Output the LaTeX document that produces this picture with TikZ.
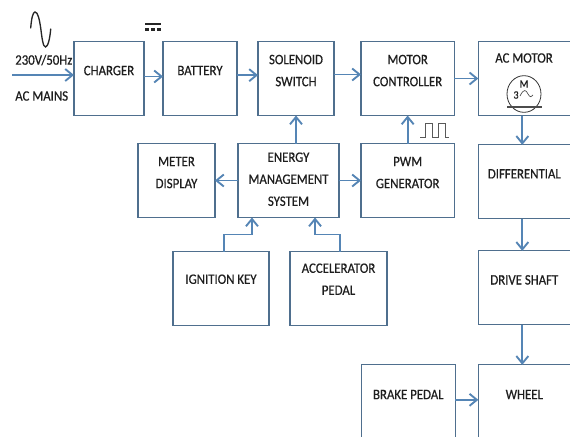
\documentclass[tikz,border=0pt]{standalone}
\usepackage{fontspec}
\setmainfont[FakeStretch=0.89,FakeBold=0.5]{Carlito}
\usetikzlibrary{positioning,arrows.meta,shapes.geometric}
\definecolor{boxline}{HTML}{4F6F8E}
\definecolor{flowline}{HTML}{5585B5}
\definecolor{inktext}{HTML}{1E1E1E}
\tikzset{
  blockbox/.style={draw=boxline, line width=0.9pt, outer sep=0pt, inner sep=0pt, align=center, text=inktext, minimum height=55.5pt,
    font=\fontsize{10.8}{16.5}\selectfont},
  blocktext/.style={text=inktext, inner sep=0pt, font=\fontsize{10.8}{16.5}\selectfont},
  flow/.style={draw=flowline, line width=1.4pt, -{Straight Barb[length=5.5pt,width=9pt,line width=1.4pt]}},
}
\begin{document}
\begin{tikzpicture}[x=0.75pt, y=0.75pt, node distance=16pt and 16pt]
\clip (0,0) rectangle (570,-436);
\fill[white] (0,0) rectangle (570,-436);
% top row
\node[blockbox, minimum width=52.5pt, text depth=12pt] (charger) at (109,-78.5) {CHARGER};
\node[blockbox, minimum width=55.5pt, text depth=12pt, right=14.25pt of charger] (battery) {BATTERY};
\node[blockbox, minimum width=57pt, text depth=12pt, right=15.75pt of battery] (solenoid) {SOLENOID\\SWITCH};
\node[blockbox, minimum width=70pt, text depth=12pt, right=20.25pt of solenoid] (controller) {MOTOR\\CONTROLLER};
\node[blockbox, minimum width=82.5pt, right=18pt of controller] (acmotor) {};
\coordinate (spine) at ([xshift=33pt]acmotor.west);
% middle row
\node[blockbox, minimum width=70pt, text depth=12pt, below=21pt of controller] (pwm) {PWM\\GENERATOR};
\node[blockbox, minimum width=75.75pt, text depth=2pt, left=16.5pt of pwm] (ems) {ENERGY\\MANAGEMENT\\SYSTEM};
\node[blockbox, minimum width=57.75pt, text depth=12pt, left=17.25pt of ems] (meter) {METER\\DISPLAY};
\node[blockbox, minimum width=72pt, text depth=14pt, below left=25.5pt and -23.25pt of ems] (ignition) {IGNITION KEY};
\node[blockbox, minimum width=72.75pt, text depth=14pt, right=15.75pt of ignition] (accel) {ACCELERATOR\\PEDAL};
% right column
\node[blockbox, minimum width=82.5pt, text depth=12pt, below=22pt of acmotor] (differential) {DIFFERENTIAL\hspace*{13.5pt}};
\node[blockbox, minimum width=82.5pt, text depth=12pt, below=24pt of differential] (shaft) {DRIVE SHAFT\hspace*{13.5pt}};
\node[blockbox, minimum width=82.5pt, minimum height=82.5pt, text depth=38pt, below=30pt of shaft] (wheel) {WHEEL\hspace*{13.5pt}};
\node[blockbox, minimum width=70.5pt, minimum height=82.5pt, text depth=38pt, left=17.25pt of wheel] (brake) {BRAKE PEDAL};
% labels
\coordinate (mains) at (12,-75);
\node[blocktext, anchor=west] (voltage) at (15,-60) {230V/50Hz};
\node[blocktext, anchor=west] (acmains) at (15,-96) {AC MAINS};
\node[blocktext] (motorname) at (524,-58) {AC MOTOR};
% motor symbol
\node[draw=black!80, line width=0.6pt, ellipse, minimum width=25.5pt, minimum height=27.5pt, inner sep=0pt] (motorsym) at (524,-94) {};
\node[blocktext, font=\fontsize{8.5}{9}\selectfont] (motorm) at (524,-84) {M};
\node[blocktext, font=\fontsize{8.5}{9}\selectfont] (motorthree) at (516,-95) {3};
\draw[black!70, line width=0.5pt] (520,-96) .. controls (524,-88) and (526,-90) .. (528,-94) .. controls (530,-98) and (532,-97) .. (533,-95);
\draw[black!70, line width=0.8pt] (507,-107) -- (542,-107);
% flows
\draw[flow] (mains) -- (mains -| charger.west);
\draw[flow] ([yshift=1.5pt]charger.east) -- ([yshift=1.5pt]battery.west);
\draw[flow] ([yshift=2.5pt]battery.east) -- ([yshift=2.5pt]solenoid.west);
\draw[flow] ([yshift=3pt]solenoid.east) -- ([yshift=3pt]controller.west);
\draw[flow] (controller.east) -- (acmotor.west);
\draw[flow] (pwm.north) -- (controller.south);
\draw[flow] (ems.north -| solenoid.south) -- (solenoid.south);
\draw[flow] (ems) -- (pwm);
\draw[flow] (ems) -- (meter);
\draw[flow] ([xshift=2pt]ignition.north) -- ++(0,12.75pt) -| ([xshift=-27.4pt]ems.south);
\draw[flow] ([xshift=1pt]accel.north) -- ++(0,12.75pt) -| ([xshift=19.9pt]ems.south);
\draw[flow] (acmotor.south -| spine) -- (differential.north -| spine);
\draw[flow] (differential.south -| spine) -- (shaft.north -| spine);
\draw[flow] (shaft.south -| spine) -- (wheel.north -| spine);
\draw[flow] ([yshift=15pt]brake.east) -- ([yshift=15pt]wheel.west);
% supply marks
\draw[black!85, line width=1pt, line cap=round] (30.7,-28) .. controls (31.5,-18) and (33,-12) .. (35,-12) .. controls (38,-12) and (39.5,-20) .. (40.7,-28) .. controls (42,-38) and (43,-47) .. (45.5,-47) .. controls (48,-47) and (50,-38) .. (50.7,-29);
\draw[black!85, line width=1.5pt] (145,-24) -- (161,-24);
\draw[black!85, line width=1.7pt] (145,-29.5) -- (149,-29.5) (151,-29.5) -- (155,-29.5) (157,-29.5) -- (161,-29.5);
\draw[black!65, line width=0.7pt] (420,-137) -- (425,-137) -- (425,-123) -- (432,-123) -- (432,-137) -- (438,-137) -- (438,-123) -- (445,-123) -- (445,-137) -- (449,-137);
\end{tikzpicture}
\end{document}
